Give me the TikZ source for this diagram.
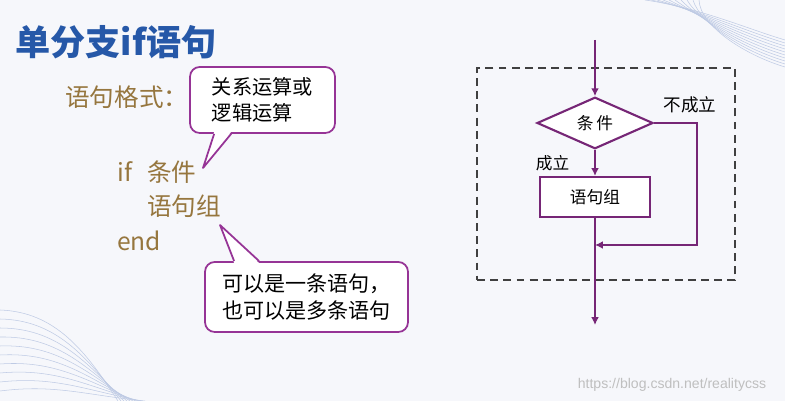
\documentclass[tikz,border=0pt]{standalone}
\usepackage{fontspec}
\setmainfont{Noto Sans CJK SC}
\newfontfamily\wmfont{Liberation Sans}
\usepackage{tikz}
\usetikzlibrary{positioning,arrows.meta,shapes.geometric,calc}
\usepackage{xcolor}
\definecolor{bgcol}{RGB}{246,247,251}
\definecolor{titleblue}{RGB}{38,88,168}
\definecolor{codegold}{RGB}{150,118,62}
\definecolor{callpurple}{RGB}{150,52,150}
\definecolor{flowpurple}{RGB}{118,38,118}
\definecolor{waveblue}{RGB}{190,202,228}

\begin{document}
\begin{tikzpicture}[
    x=0.02cm, y=-0.02cm,
    title/.style={font=\fontsize{20pt}{23pt}\selectfont\bfseries, text=titleblue, anchor=west, inner sep=0pt},
    code/.style={font=\fontsize{14pt}{17pt}\selectfont, text=codegold, anchor=west, inner sep=0pt},
    callbox/.style={draw=callpurple, line width=1pt, rounded corners=5.5pt, fill=white, align=left, inner sep=0pt, font=\fontsize{#1}{1.3\dimexpr#1\relax}\selectfont},
    callbox/.default={11.5pt},
    calltail/.style={draw=callpurple, line width=1pt, line join=round},
    framebox/.style={draw=black!75, line width=0.85pt, dash pattern=on 4.5pt off 3pt, minimum width=5.16cm, minimum height=4.24cm},
    cond/.style={diamond, draw=flowpurple, line width=1.2pt, fill=white, minimum width=2.32cm, minimum height=1cm, inner sep=0pt, font=\fontsize{9.5pt}{11pt}\selectfont},
    stepbox/.style={draw=flowpurple, line width=1.2pt, fill=white, minimum width=2.2cm, minimum height=0.8cm, inner sep=0pt, font=\fontsize{9.5pt}{11pt}\selectfont},
    flow/.style={-{Latex[length=4.5pt,width=4.5pt]}, draw=flowpurple, line width=1.3pt},
    lbl/.style={font=\fontsize{9.5pt}{11pt}\selectfont, inner sep=0pt},
    wave/.style={draw=waveblue, line width=0.3pt},
]

\useasboundingbox (0,0) rectangle (785,401);
\fill[bgcol] (0,0) rectangle (785,401);

% ===== BACKGROUND WAVES =====
\foreach \i in {0,...,9}
  \draw[wave] (645+\i*6,0) .. controls (700,8+\i*2) and (745,28+\i*3) .. (785,40+\i*3);
\foreach \i in {0,...,9}
  \draw[wave] (0,310+\i*9) .. controls (55,312+\i*8) and (85,350+\i*5) .. (118+\i*3,401);

% ===== LEFT: SYNTAX =====
\node[title] (heading) at (15,42) {单分支if语句};
\node[code] (fmt) at (65,97) {语句格式：};
\node[code] (ifkw) at (117,172) {if};
\node[code] (condtxt) at (147,172) {条件};
\node[code] (stmttxt) at (147,206) {语句组};
\node[code] (endkw) at (117,241) {end};

% callouts
\node[callbox, minimum width=2.9cm, minimum height=1.32cm] (note1) at (262.5,100) {关系运算或\\逻辑运算};
\fill[white] ($(note1.south west)+(25,-2)$) -- (203,168) -- ($(note1.south west)+(42,-2)$) -- cycle;
\draw[calltail] ($(note1.south west)+(25,0)$) -- (203,168) -- ($(note1.south west)+(42,0)$);

\node[callbox=12pt, minimum width=4.06cm, minimum height=1.4cm] (note2) at (306.5,297) {可以是一条语句，\\也可以是多条语句};
\fill[white] ($(note2.north west)+(30,2)$) -- (220,225) -- ($(note2.north west)+(55,2)$) -- cycle;
\draw[calltail] ($(note2.north west)+(30,0)$) -- (220,225) -- ($(note2.north west)+(55,0)$);

% ===== RIGHT: FLOWCHART =====
\node[framebox] (frame) at (606,174) {};
\coordinate (in) at (595,40);
\node[cond] (test) at (595,123) {条\,件};
\node[stepbox] (body) at (595,197) {语句组};
\coordinate (rt) at (697,245);
\coordinate (join) at (595,245);
\coordinate (out) at (595,325);

\draw[flow] (in) -- (test.north);
\draw[flow] (test.south) -- (body.north) node[lbl, midway, left=14pt] {成立};
\draw[flow] (body.south) -- (out);
\draw[flow] (test.east) -| (rt) -- (join);
\node[lbl, font=\fontsize{10pt}{12pt}\selectfont] (nolbl) at (690,105) {不成立};

% watermark
\node[font=\wmfont\fontsize{8pt}{10pt}\selectfont, text=black!25, inner sep=0pt] (wm) at (672,385) {https://blog.csdn.net/realitycss};

\end{tikzpicture}
\end{document}
